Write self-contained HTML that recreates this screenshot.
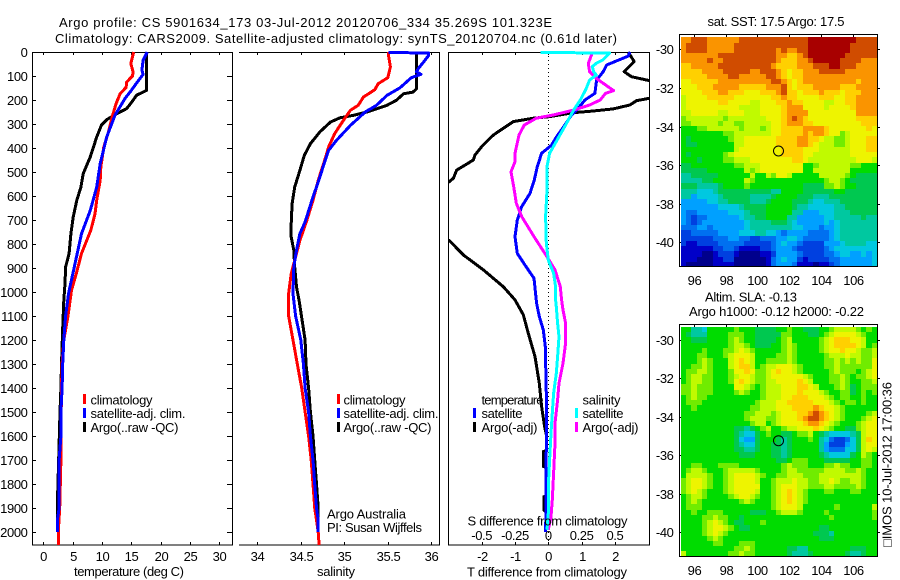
<!DOCTYPE html>
<html lang="en">
<head>
<meta charset="utf-8">
<title>Argo profile</title>
<style>
html,body{margin:0;padding:0;background:#fff;}
body{width:900px;height:580px;overflow:hidden;}
svg{display:block;}
text{font-family:"Liberation Sans",sans-serif;font-size:13px;fill:#000;}
</style>
</head>
<body>
<svg id="fig" width="900" height="580" viewBox="0 0 900 580" xmlns="http://www.w3.org/2000/svg">
<defs>
<clipPath id="clip1"><rect x="32" y="50.5" width="200" height="494.5"/></clipPath>
<clipPath id="clip2"><rect x="239" y="50.5" width="200" height="494.5"/></clipPath>
<clipPath id="clip3"><rect x="448" y="50.5" width="201" height="494.5"/></clipPath>
</defs>
<text x="59" y="27" textLength="493" lengthAdjust="spacing">Argo profile: CS 5901634_173 03-Jul-2012 20120706_334 35.269S 101.323E</text>
<text x="55" y="43" textLength="562" lengthAdjust="spacing">Climatology: CARS2009. Satellite-adjusted climatology: synTS_20120704.nc (0.61d later)</text>

<g id="ticks"></g>
<g id="heat1" shape-rendering="crispEdges"></g>
<g id="heat2" shape-rendering="crispEdges"></g>

<g fill="none" stroke="#000" stroke-width="1" shape-rendering="crispEdges">
<path d="M32.5 545V52.5H232.5V545H32"/>
<path d="M239 52.5H439.5V545H239"/>
<rect x="448.5" y="52.5" width="201" height="492.5"/>
<rect x="679.5" y="34.5" width="198" height="232"/>
<rect x="679.5" y="324.5" width="198" height="232"/>
</g>
<line x1="548.5" y1="52" x2="548.5" y2="545" stroke="#000" stroke-width="1" stroke-dasharray="1 3" shape-rendering="crispEdges"/>
<g id="series"></g>

<circle cx="778.5" cy="151" r="5" fill="none" stroke="#000" stroke-width="1"/>
<circle cx="778.5" cy="440.7" r="5" fill="none" stroke="#000" stroke-width="1"/>

<g shape-rendering="crispEdges">
<rect x="83" y="394" width="3" height="10" fill="#f00"/>
<rect x="83" y="408" width="3" height="10" fill="#00f"/>
<rect x="83" y="422" width="3" height="10" fill="#000"/>
</g>
<text x="90.5" y="404.5" textLength="62">climatology</text>
<text x="90.5" y="418" textLength="95">satellite-adj. clim.</text>
<text x="90.5" y="432" textLength="88">Argo(..raw -QC)</text>

<g shape-rendering="crispEdges">
<rect x="337" y="394" width="3" height="10" fill="#f00"/>
<rect x="337" y="408" width="3" height="10" fill="#00f"/>
<rect x="337" y="422" width="3" height="10" fill="#000"/>
</g>
<text x="343.5" y="404.5" textLength="62">climatology</text>
<text x="343.5" y="418" textLength="95">satellite-adj. clim.</text>
<text x="343.5" y="432" textLength="88">Argo(..raw -QC)</text>
<text x="327" y="518.5" textLength="79">Argo Australia</text>
<text x="327" y="532" textLength="95">PI: Susan Wijffels</text>

<g shape-rendering="crispEdges">
<rect x="473" y="408" width="3" height="10" fill="#00f"/>
<rect x="473" y="422" width="3" height="10" fill="#000"/>
<rect x="575" y="408" width="3" height="10" fill="#0ff"/>
<rect x="575" y="422" width="3" height="10" fill="#f0f"/>
</g>
<text x="481.5" y="404.5" textLength="62">temperature</text>
<text x="481.5" y="418" textLength="41">satellite</text>
<text x="481.5" y="432" textLength="56">Argo(-adj)</text>
<text x="582.5" y="404.5" textLength="38">salinity</text>
<text x="582.5" y="418" textLength="41">satellite</text>
<text x="582.5" y="432" textLength="56">Argo(-adj)</text>

<text x="467.5" y="525.5" textLength="160">S difference from climatology</text>
<text x="74" y="576" textLength="110">temperature (deg C)</text>
<text x="317" y="576" textLength="38">salinity</text>
<text x="467" y="576.5" textLength="160">T difference from climatology</text>

<text x="707.5" y="26" textLength="137">sat. SST: 17.5 Argo: 17.5</text>
<text x="705" y="301.5" textLength="92">Altim. SLA: -0.13</text>
<text x="689" y="316" textLength="175">Argo h1000: -0.12 h2000: -0.22</text>
<text transform="translate(891.5,547) rotate(-90)" textLength="165">&#9633;IMOS 10-Jul-2012 17:00:36</text>
</svg>

<script>
// ---- chart data ----
const depthTicks = [0,100,200,300,400,500,600,700,800,900,1000,1100,1200,1300,1400,1500,1600,1700,1800,1900,2000];
const tempTicks = [0,5,10,15,20,25,30];
const salTickValues = [34,34.5,35,35.5,36];
const salTickLabels = ['34','34.5','35','35.5','36'];
const tDiffTicks = [-2,-1,0,1,2];
const sDiffTickValues = [-0.5,-0.25,0,0.25,0.5];
const sDiffTickLabels = ['-0.5','-0.25','0','0.25','0.5'];
const lonTicks = [96,98,100,102,104,106];
const latTicks = [30,32,34,36,38,40];

// Temperature profiles (deg C)
const tClimDepth = [0,48,83,100,125,148,173,215,264,333,396,480,535,618,674,743,840,924,993,1100,1200,1300,1400,1500,1600,1700,1800,1900,2000,2054];
const tClimValue = [15.4,14.9,15.3,15.2,14.2,14.1,13.1,12.4,11.8,11.1,10.3,9.8,9.7,9.1,8.8,8.1,6.5,5.6,4.8,4.2,3.5,3.2,3.1,3.05,3.0,3.0,2.9,2.8,2.55,2.55];
const tSatDepth = [0,35,76,93,139,160,194,264,354,465,563,660,757,882,1007,1100,1200,1300,1400,1500,1600,1700,1800,1900,1950,2000];
const tSatValue = [17.7,17.0,16.8,17.0,15.6,15.0,13.9,12.2,10.8,9.7,9.1,8.0,6.5,5.4,4.3,3.8,3.5,3.3,3.2,3.0,3.0,2.7,2.7,2.7,2.4,2.4];
const tArgoDepth = [0,160,180,208,236,257,282,305,354,437,472,507,563,618,688,757,840,896,965,1035,1150,1300,1400,1500,1650,1850,2000];
const tArgoValue = [17.6,17.6,15.9,15.1,14.2,12.5,10.8,9.9,9.1,8.0,7.4,6.8,6.4,5.7,5.1,4.7,4.4,3.8,3.7,3.5,3.3,3.1,3.0,2.85,2.67,2.44,2.4];

// Salinity profiles
const sClimDepth = [0,20,62,107,132,157,188,222,243,285,340,396,444,535,618,701,785,868,924,1007,1100,1200,1300,1400,1500,1600,1700,1800,1900,1950,2000,2054];
const sClimValue = [35.51,35.51,35.53,35.5,35.39,35.35,35.22,35.16,35.07,34.99,34.89,34.82,34.78,34.7,34.64,34.57,34.49,34.43,34.39,34.36,34.36,34.41,34.46,34.51,34.55,34.59,34.62,34.64,34.66,34.68,34.7,34.71];
const sSatDepth = [2,4,14,42,69,83,93,107,149,181,222,250,306,368,410,451,521,604,708,757,826,896,1007,1100,1200,1300,1400,1500,1600,1700,1800,1900,1950,2000];
const sSatValue = [35.51,35.97,35.97,35.91,35.85,35.83,35.88,35.77,35.64,35.49,35.37,35.24,35.07,34.91,34.82,34.78,34.72,34.64,34.55,34.49,34.45,34.42,34.41,34.44,34.5,34.53,34.55,34.59,34.61,34.64,34.66,34.68,34.7,34.7];
const sArgoDepth = [3,153,167,174,201,222,250,264,274,292,333,382,431,493,563,632,715,771,826,896,979,1035,1200,1300,1400,1500,1600,1700,1800,1900,1975];
const sArgoValue = [35.83,35.83,35.79,35.68,35.6,35.49,35.26,35.1,34.95,34.84,34.72,34.61,34.54,34.49,34.43,34.4,34.39,34.39,34.42,34.43,34.45,34.48,34.55,34.56,34.59,34.61,34.64,34.66,34.68,34.7,34.7];

// Temperature differences from climatology (deg C)
const dtSatDepth = [0,17,40,54,82,117,172,200,235,262,304,353,388,422,478,533,589,644,700,769,839,888,943,1047,1102,1158,1227,1366,1477,1588,1727,1894,2000];
const dtSatValue = [2.45,2.4,2.0,1.75,1.65,1.45,1.4,1.1,0.9,0.7,0.5,0.25,0.1,-0.2,-0.33,-0.42,-0.55,-0.8,-0.93,-1.0,-0.93,-0.7,-0.43,-0.35,-0.27,-0.15,-0.09,-0.07,-0.05,-0.05,-0.07,-0.07,-0.08];
const dtArgoDepth = [0,40,82,103,119,150,193,203,221,237,246,253,269,276,290,318,346,394,429,450,492,526,540,660,786,846,908,978,1033,1095,1172,1269,1380,1477,1561,1600,1660,1665,1727,1730,1850,1852,1910,1915,2000];
const dtArgoValue = [2.4,2.58,2.28,2.5,3.03,4.5,3.03,2.65,2.45,1.95,1.35,0.75,0.05,-0.45,-1.05,-1.35,-1.65,-2.0,-2.2,-2.25,-2.75,-2.85,-2.97,-5.0,-2.97,-2.55,-1.95,-1.35,-1.0,-0.75,-0.6,-0.4,-0.27,-0.2,-0.11,-0.05,-0.05,-0.15,-0.15,-0.07,-0.07,-0.13,-0.13,-0.07,-0.08];

// Salinity differences from climatology
const dsSatDepth = [2,4,33,47,61,82,96,117,158,200,242,304,373,422,478,575,686,797,867,922,978,1033,1061,1130,1186,1269,1339,1422,1505,1588,1700,1811,1922,1991];
const dsSatValue = [-0.06,0.46,0.41,0.36,0.33,0.34,0.36,0.31,0.28,0.24,0.19,0.13,0.06,0.01,-0.01,-0.01,-0.02,-0.015,0,0.04,0.055,0.055,0.06,0.07,0.08,0.07,0.06,0.04,0.03,0.02,0.01,0.0,0.0,-0.01];
const dsArgoDepth = [4,47,82,110,161,172,200,221,242,262,276,304,346,422,457,499,561,630,686,776,853,908,978,1033,1075,1130,1213,1297,1380,1450,1547,1630,1755,1866,1936,1991];
const dsArgoValue = [0.33,0.3,0.31,0.36,0.49,0.43,0.39,0.31,0.19,0.04,-0.09,-0.18,-0.22,-0.25,-0.25,-0.28,-0.26,-0.24,-0.2,-0.1,-0.01,0.05,0.09,0.1,0.11,0.13,0.13,0.11,0.08,0.07,0.05,0.05,0.04,0.03,0.02,0];

// Map grids: one hex code per cell (0 = lowest colour level, f = highest)
const sstRows = [
"ddeee ddddd deeee eeeee eeeef fffff fffee ee",
"deeee ddddd eeeee eeeee eeeef fffff ffeee ee",
"deeee ddddd eeeee eeede ddeef fffff ffeee ee",
"ddddd ddeee eeeee eeedd ccdef fffff feeee ee",
"ddddd eddee eeeee eeedc ccdde fffff eeeed dd",
"ccddd ddeee eeeee eedcc ccddd eeeff eeedd dd",
"ccccd dddee eeedd eeedc bccdd deeee edddd dd",
"ccccc dddde edddd deedc bccdd ddddd ddddd dd",
"bbccc ccddd ddddd ddeed cbcdd ddddd dddcd dd",
"bbbcc cdddd dcccc cddde cbccc ddddd cccdd dd",
"bbbbc ccddc ccbbb cccde ccbcc cdccc bcccd dd",
"abbbb ccccc bbbbb bbccd ccbbb bcccb bccdd dd",
"abbbb bbccb bbbaa bbbcc dccbb bbaab bccdd dd",
"abbbb bbbbb baaaa bbbbc dddbb bbabb bbcdd dd",
"aabbb bbaab bbaaa bbbbc ddddb bbbbb bbbdd dd",
"9aaaa aaa9a aaaaa abbbc dedcb bbbbb bbbcc cc",
"99aaa aa9aa 99aaa aabbc dddcc bbbbb bbbbc cc",
"88899 aaaaa a9aaa 9abbc cccdd ddcbb bbbbb cb",
"88888 88899 aaaaa aabbc cccdc ddcbb 9abbb bb",
"87888 88889 aabbb bbbcc ccddc cbaa9 9abbb cc",
"87788 88888 aabbb bbbcc ccddc baaa9 9abbb cc",
"88888 88888 abbbb bbbbc cccbb baaaa aabbb cc",
"87888 8889a bbbbb bbbbc cccbb aaaaa aabbb bb",
"88878 88899 aaabb bbbbb bccba aaaaa aaabb ba",
"77888 88888 99aaa bbbbb bbb88 9aaaa aa998 88",
"77777 88888 88a9a bbbbb bbb88 aaaaa aa888 88",
"66777 77888 888a8 8a9bb a8888 8aaaa a9877 77",
"66667 78888 88a98 88888 88888 889aa 98777 77",
"77766 66788 88988 88888 88877 7799a 98877 77",
"66655 56777 77777 77668 88877 77778 87777 77",
"66455 55677 77766 66788 88777 66677 77777 77",
"44444 55667 77766 67888 87776 55666 77777 77",
"44444 44555 56777 78888 87665 55556 67777 77",
"43344 44445 55677 78888 86644 45556 66777 77",
"43233 44444 45667 78888 66444 44556 66667 66",
"43234 44444 44566 66777 65444 44545 66666 66",
"33344 34444 44566 66666 65544 43445 66666 66",
"22333 33444 45556 65543 44443 33345 66666 66",
"22222 23334 43322 33344 55433 33345 66666 66",
"21122 22333 33222 22345 44322 22444 56666 55",
"11111 12233 21111 22344 43222 22345 55555 55",
"11110 01222 10000 11244 44322 22334 55445 45",
"11100 01122 00000 01345 44212 22233 44444 45",
"10000 01111 00000 01344 43111 01123 44444 45"
];
const slaRows = [
"88665 88888 98887 77788 98877 7889a aaa98 98",
"87666 88889 99887 77779 98887 789ab bbba9 88",
"88777 88889 a9887 77789 a8888 89abc ccbba 88",
"88888 88889 aa987 77889 a9888 89abc cccba 89",
"88889 88899 aba98 88889 a9888 89abb cbba9 9a",
"88899 8889a bbba8 88899 a9888 889aa abaa9 9a",
"8889a 9888a bcba8 89999 a9888 8899a 9a9a9 9b",
"8899a 9888a bcca8 9aabb ba988 8899a 99999 9b",
"899aa 98889 bbcb9 9abcb ba988 8889a 99989 ab",
"89aa9 98889 abba9 9abbb bbba9 88899 a9899 ab",
"89aa9 98889 bcba9 9aabb bbcba 88899 a9889 9a",
"99a99 98888 bba98 9aaab bbccb a8889 a9789 99",
"99a99 98888 9a988 9aaab bbcbb ba988 99789 89",
"89a99 88888 88888 9aaab bcccb bba98 99889 88",
"89998 88888 88889 aaabb ccccc bbba9 89989 88",
"88988 88888 88899 aaabb bcccc dcbba 98888 88",
"88888 88888 8899a aa9ab bbccd edcba 98888 9a",
"88888 88888 889aa a99ab bbcde edcba 98889 ab",
"88888 88888 8889a a89ab bbbcd dcba9 8889a bb",
"88888 88888 77678 9a889 aabbb cba98 8779a bb",
"88888 88888 76557 89887 7899a 87655 5567a bb",
"88888 88888 75447 88876 78889 86532 2357a cb",
"88888 88888 76557 88776 78888 86422 2457a bb",
"88888 88888 77667 88776 78888 86433 3557a ba",
"88888 88888 87778 88776 78888 87655 5578a 98",
"88888 88888 88888 88877 89998 88777 77889 98",
"88998 88999 98888 88889 a9998 8899a 99889 98",
"89aa9 8889a aaaa9 88889 aa999 99aaa a99a9 88",
"8aaaa 9889a bbbba 98899 aaa99 9aaaa aaaa9 88",
"9abba 9889a bbbba 889aa abaa9 9aaba 99aa9 88",
"9abba 9889a bbbbb 889ab bbaa9 99aa9 999a9 88",
"9aba9 8889a bbbba 889ab cba98 88998 88998 88",
"89aa9 88889 abba9 889ab cba98 88888 88888 88",
"89a98 88888 89a98 889ab cba98 88888 88888 88",
"89998 88888 88888 889ab bba88 88889 88888 8a",
"88988 99988 88877 7889a aa988 88988 88888 89",
"88889 9a998 87888 88888 88888 88898 88888 89",
"88889 aba98 77888 98888 88888 88888 88888 88",
"88889 abba9 87788 88888 88888 87788 88888 88",
"88889 aba98 88888 88888 88888 77768 88888 88",
"88888 9a988 88888 88888 88888 87778 88888 88",
"88888 89988 89998 88888 88888 88888 88888 88",
"88888 88888 99a98 88888 77668 88888 88777 88",
"a8888 88889 9a998 88888 76667 88888 87667 88"
];

// ---- scales ----
const NS = 'http://www.w3.org/2000/svg';
const yDepth = d => 52 + 0.24 * d;
const xTemp = t => 43.3 + 5.87 * t;
const xSal = s => 257.3 + 87 * (s - 34);
const xDT = v => 548.3 + 33.3 * v;
const xDS = v => 548.3 + 133.2 * v;
const xLon = lon => 694 + 15.87 * (lon - 96);
const yLat1 = lat => 49.3 + 19.3 * (lat - 30);
const yLat2 = lat => 340 + 19.2 * (lat - 30);
const cellW = 5.3;
const cellH = 5.22;
const levelColors = ['#00008c','#0000c8','#0040e0','#0070f0','#00a0ff','#00c8e0','#00c8a0','#00c850','#00dc00','#70ec00','#c0fa00','#eef400','#ffd000','#fa9400','#d04c00','#a80000'];

function tickLine(parent, x1, y1, x2, y2) {
  const el = document.createElementNS(NS, 'line');
  
  
  el.setAttribute('x1', x1); el.setAttribute('y1', y1);
  el.setAttribute('x2', x2); el.setAttribute('y2', y2);
  el.setAttribute('stroke', '#000');
  el.setAttribute('shape-rendering', 'crispEdges');
  parent.appendChild(el);
}
function tickText(parent, x, y, anchor, str) {
  const el = document.createElementNS(NS, 'text');
  
  
  el.setAttribute('x', x); el.setAttribute('y', y);
  el.setAttribute('text-anchor', anchor);
  el.setAttribute('letter-spacing', '-0.4');
  el.textContent = str;
  parent.appendChild(el);
}
function drawSeries(parent, name, color, xs, ds, xf, clip) {
  const el = document.createElementNS(NS, 'polyline');
  
  
  el.setAttribute('points', ds.map((d, i) => xf(xs[i]).toFixed(1) + ',' + yDepth(d).toFixed(1)).join(' '));
  el.setAttribute('fill', 'none');
  el.setAttribute('stroke', color);
  el.setAttribute('stroke-width', '3');
  el.setAttribute('stroke-linejoin', 'round');
  el.setAttribute('clip-path', 'url(#' + clip + ')');
  el.setAttribute('shape-rendering', 'crispEdges');
  parent.appendChild(el);
}
function drawHeat(parent, name, rows, left, top) {
  rows.forEach((row, r) => {
    const cells = row.replace(/ /g, '');
    for (let c = 0; c < cells.length; c++) {
      const x0 = Math.round(left + c * cellW), x1 = Math.round(left + (c + 1) * cellW);
      const y0 = Math.round(top + r * cellH), y1 = Math.round(top + (r + 1) * cellH);
      const el = document.createElementNS(NS, 'rect');
      
      
      el.setAttribute('x', x0); el.setAttribute('y', y0);
      el.setAttribute('width', x1 - x0); el.setAttribute('height', y1 - y0);
      el.setAttribute('fill', levelColors[parseInt(cells[c], 16)]);
      parent.appendChild(el);
    }
  });
}

// ---- draw ----
const ticks = document.getElementById('ticks');
depthTicks.forEach(d => {
  const y = Math.round(yDepth(d)) + 0.5;
  tickLine(ticks, 32, y, 36, y);
  tickLine(ticks, 227, y, 232, y);
  tickText(ticks, 27.5, y + 4.5, 'end', String(d));
});
tempTicks.forEach(t => {
  const x = Math.round(xTemp(t)) + 0.5;
  tickLine(ticks, x, 52, x, 55);
  tickLine(ticks, x, 545, x, 542);
  tickText(ticks, x, 561, 'middle', String(t));
});
salTickValues.forEach((s, i) => {
  const x = Math.round(xSal(s)) + 0.5;
  tickLine(ticks, x, 52, x, 55);
  tickLine(ticks, x, 545, x, 542);
  tickText(ticks, x, 561, 'middle', salTickLabels[i]);
});
tDiffTicks.forEach(v => {
  const x = Math.round(xDT(v)) + 0.5;
  tickLine(ticks, x, 52, x, 55);
  tickLine(ticks, x, 545, x, 542);
  tickText(ticks, x, 561, 'middle', String(v));
});
sDiffTickValues.forEach((v, i) => {
  tickText(ticks, xDS(v), 540, 'middle', sDiffTickLabels[i]);
});
lonTicks.forEach(lon => {
  const x = Math.round(xLon(lon)) + 0.5;
  tickLine(ticks, x, 34, x, 37);
  tickLine(ticks, x, 267, x, 264);
  tickLine(ticks, x, 324, x, 327);
  tickLine(ticks, x, 557, x, 554);
  tickText(ticks, x, 285, 'middle', String(lon));
  tickText(ticks, x, 575, 'middle', String(lon));
});
latTicks.forEach(lat => {
  const y1 = Math.round(yLat1(lat)) + 0.5;
  const y2 = Math.round(yLat2(lat)) + 0.5;
  tickLine(ticks, 680, y1, 683, y1);
  tickLine(ticks, 877, y1, 880, y1);
  tickLine(ticks, 680, y2, 683, y2);
  tickLine(ticks, 877, y2, 880, y2);
  tickText(ticks, 673.5, y1 + 4.5, 'end', '-' + lat);
  tickText(ticks, 673.5, y2 + 4.5, 'end', '-' + lat);
});

drawHeat(document.getElementById('heat1'), 'sst-cell', sstRows, 680.7, 37.3);
drawHeat(document.getElementById('heat2'), 'sla-cell', slaRows, 680.7, 327);

const s = document.getElementById('series');
drawSeries(s, 'temperature-argo-line', '#000', tArgoValue, tArgoDepth, xTemp, 'clip1');
drawSeries(s, 'temperature-climatology-line', '#f00', tClimValue, tClimDepth, xTemp, 'clip1');
drawSeries(s, 'temperature-satellite-line', '#00f', tSatValue, tSatDepth, xTemp, 'clip1');
drawSeries(s, 'salinity-argo-line', '#000', sArgoValue, sArgoDepth, xSal, 'clip2');
drawSeries(s, 'salinity-climatology-line', '#f00', sClimValue, sClimDepth, xSal, 'clip2');
drawSeries(s, 'salinity-satellite-line', '#00f', sSatValue, sSatDepth, xSal, 'clip2');
drawSeries(s, 'dt-argo-line', '#000', dtArgoValue, dtArgoDepth, xDT, 'clip3');
drawSeries(s, 'dt-satellite-line', '#00f', dtSatValue, dtSatDepth, xDT, 'clip3');
drawSeries(s, 'ds-argo-line', '#f0f', dsArgoValue, dsArgoDepth, xDS, 'clip3');
drawSeries(s, 'ds-satellite-line', '#0ff', dsSatValue, dsSatDepth, xDS, 'clip3');
</script>
</body>
</html>
